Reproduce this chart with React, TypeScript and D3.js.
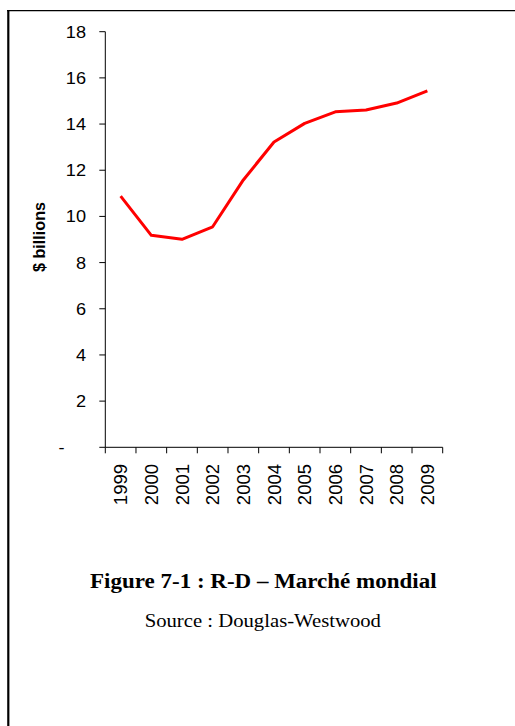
import React from "react";
import * as d3 from "d3";

const years = ["1999", "2000", "2001", "2002", "2003", "2004", "2005", "2006", "2007", "2008", "2009"];
const values = [10.88, 9.18, 9.01, 9.55, 11.58, 13.22, 14.03, 14.53, 14.61, 14.91, 15.44];
const yTicks = [0, 2, 4, 6, 8, 10, 12, 14, 16, 18];
const yTickLabels = ["-", "2", "4", "6", "8", "10", "12", "14", "16", "18"];
const yAxisTitle = "$ billions";
const figureTitle = "Figure 7-1 : R-D – Marché mondial";
const sourceText = "Source : Douglas-Westwood";

export default function App() {
  const W = 515;
  const H = 726;
  const left = 105.3;
  const right = 442.7;
  const top = 31.7;
  const bottom = 447.3;

  const x = d3.scaleBand<string>().domain(years).range([left, right]).padding(0);
  const y = d3.scaleLinear().domain([0, 18]).range([bottom, top]);

  const line = d3
    .line<number>()
    .x((_, i) => (x(years[i]) as number) + x.bandwidth() / 2)
    .y((d) => y(d));

  const sans = "Arial, 'Liberation Sans', sans-serif";
  const serif = "'Times New Roman', 'Liberation Serif', serif";
  const bounds = [...years.map((yr) => x(yr) as number), right];

  return (
    <svg
      width={W}
      height={H}
      style={{ position: "absolute", left: 0, top: 0, background: "#fff" }}
    >
      {/* frame */}
      <line x1={7} x2={515} y1={10.6} y2={10.6} stroke="#000" strokeWidth={1.4} />
      <line x1={8.3} x2={8.3} y1={10} y2={726} stroke="#000" strokeWidth={2.2} />

      {/* y axis */}
      <line x1={left} x2={left} y1={top} y2={bottom} stroke="#000" strokeWidth={1} />
      {yTicks.map((t, i) => {
        const ax = t === 0 ? 64.5 : 86;
        return (
          <g key={t}>
            <line x1={left - 6} x2={left} y1={y(t)} y2={y(t)} stroke="#000" strokeWidth={1} />
            <text
              x={ax}
              y={y(t)}
              dy="0.36em"
              textAnchor="end"
              fontFamily={sans}
              fontSize={16.5}
              fill="#000"
              transform={`translate(${ax},0) scale(1.1,1) translate(${-ax},0)`}
            >
              {yTickLabels[i]}
            </text>
          </g>
        );
      })}

      {/* x axis */}
      <line x1={left} x2={right} y1={bottom} y2={bottom} stroke="#000" strokeWidth={1} />
      {bounds.map((b, i) => (
        <line key={i} x1={b} x2={b} y1={bottom} y2={bottom + 6} stroke="#000" strokeWidth={1} />
      ))}
      {years.map((yr) => {
        const cx = (x(yr) as number) + x.bandwidth() / 2;
        return (
          <text
            key={yr}
            transform={`translate(${cx},464) rotate(-90)`}
            dy="0.36em"
            textAnchor="end"
            fontFamily={sans}
            fontSize={18.5}
            fill="#000"
          >
            {yr}
          </text>
        );
      })}

      {/* y axis title */}
      <text
        transform="translate(45,237) rotate(-90)"
        textAnchor="middle"
        fontFamily={sans}
        fontWeight="bold"
        fontSize={16.2}
        fill="#000"
      >
        {yAxisTitle}
      </text>

      {/* data line */}
      <path d={line(values) || ""} fill="none" stroke="#ff0000" strokeWidth={3} strokeLinejoin="round" />

      {/* captions */}
      <text
        x={263.3}
        y={588.3}
        textAnchor="middle"
        fontFamily={serif}
        fontWeight="bold"
        fontSize={21.5}
        fill="#000"
        transform="translate(263.3,0) scale(1.07,1) translate(-263.3,0)"
      >
        {figureTitle}
      </text>
      <text
        x={262.8}
        y={626.7}
        textAnchor="middle"
        fontFamily={serif}
        fontSize={19}
        fill="#000"
        transform="translate(262.8,0) scale(1.09,1) translate(-262.8,0)"
      >
        {sourceText}
      </text>
    </svg>
  );
}
